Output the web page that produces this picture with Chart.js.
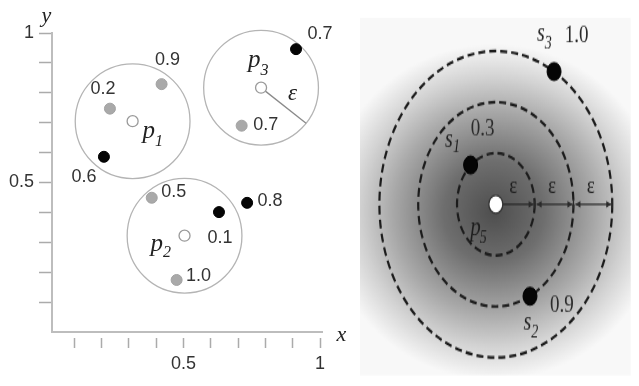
<!DOCTYPE html>
<html>
<head>
<meta charset="utf-8">
<title>Probabilistic ε-neighbourhoods</title>
<script src="https://cdn.jsdelivr.net/npm/chart.js@4.4.1/dist/chart.umd.min.js"></script>
<style>
  html, body { margin: 0; padding: 0; background: #fff; }
  #wrap { position: relative; width: 639px; height: 386px; overflow: hidden; }
  #left { position: absolute; left: 0; top: 0; }
  #right { position: absolute; left: 340px; top: 0; width: 299px; height: 386px; }
</style>
</head>
<body>
<div id="wrap">
  <canvas id="left" width="360" height="386"></canvas>
  <canvas id="right" width="299" height="302" style="width:299px;height:386px"></canvas>
</div>
<script>
// ---------- Left panel: query points p1..p3, their ε-neighbourhoods and nearby objects ----------
const eps = 0.21;
const centerNames = ['1', '2', '3'];
const centerPoints = [{ x: 0.314, y: 0.705 }, { x: 0.504, y: 0.322 }, { x: 0.784, y: 0.817 }];
const greyPoints = [{ x: 0.231, y: 0.747 }, { x: 0.42, y: 0.829 }, { x: 0.713, y: 0.69 }, { x: 0.384, y: 0.449 }, { x: 0.475, y: 0.174 }];
const greyProbs = ['0.2', '0.9', '0.7', '0.5', '1.0'];
const blackPoints = [{ x: 0.209, y: 0.586 }, { x: 0.912, y: 0.946 }, { x: 0.63, y: 0.401 }, { x: 0.733, y: 0.432 }];
const blackProbs = ['0.6', '0.7', '0.1', '0.8'];
const axisTicks = [0.1, 0.2, 0.3, 0.4, 0.5, 0.6, 0.7, 0.8, 0.9, 1.0];
const axisTickLabels = ['', '', '', '', '0.5', '', '', '', '', '1'];

// ---------- Right panel: object p5 with rings at ε, 2ε, 3ε and samples s1..s3 ----------
const ringEps = 1;
const ringMultiples = [1, 2, 3];
const queryName = '5';
const queryPoint = [{ x: 0, y: 0 }];
const sampleNames = ['1', '2', '3'];
const samplePoints = [{ x: -0.65, y: 0.77 }, { x: 0.88, y: -1.8 }, { x: 1.5, y: 2.6 }];
const sampleProbs = ['0.3', '0.9', '1.0'];

// label placement (pixel offsets from each mark; subscript offsets are vertical only)
const greyLabelOffsets = [[-7, -20], [6, -24], [24, -1], [22, -6], [22, -4]];
const blackLabelOffsets = [[-20, 20], [24, -15], [1, 26], [23, -1.5]];
const centerLabelOffsets = [
  { p: [10, 17], sub: 24.5 },
  { p: [-34, 15.5], sub: 21.5 },
  { p: [-13, -21], sub: -13 }
];
const sampleLabelOffsets = [
  { s: [-25.5, -14], sub: -10, prob: [12, -28.2] },
  { s: [-6.5, 26.6], sub: 32, prob: [32, 7] },
  { s: [-17, -24], sub: -18, prob: [22.5, -27.8] }
];
const queryLabelOffset = { p: [-25.5, 24.3], sub: 30.5 };

const SANS = '"Liberation Sans", Arial, sans-serif';
const SERIF = '"Liberation Serif", "Times New Roman", serif';

// base letter followed by a subscript that starts where the letter ends
function subscripted(ctx, base, sub, px, py, offBase, subY, baseFont, subFont, kern) {
  ctx.textAlign = 'left';
  ctx.textBaseline = 'alphabetic';
  ctx.font = baseFont;
  const bx = px + offBase[0];
  ctx.fillText(base, bx, py + offBase[1]);
  const w = ctx.measureText(base).width;
  ctx.font = subFont;
  ctx.fillText(sub, bx + w + (kern || 0), py + subY);
}

const leftDecor = {
  id: 'leftDecor',
  beforeDatasetsDraw(chart) {
    const { ctx, scales: { x, y } } = chart;
    const r = x.getPixelForValue(eps) - x.getPixelForValue(0);
    ctx.save();
    ctx.strokeStyle = '#b4b4b4';
    ctx.lineWidth = 1.3;
    centerPoints.forEach(c => {
      ctx.beginPath();
      ctx.arc(x.getPixelForValue(c.x), y.getPixelForValue(c.y), r, 0, Math.PI * 2);
      ctx.stroke();
    });
    // radius marker inside the third neighbourhood
    const c = centerPoints[2];
    const cx = x.getPixelForValue(c.x), cy = y.getPixelForValue(c.y);
    const a = 0.67;
    ctx.strokeStyle = '#8a8a8a';
    ctx.beginPath();
    ctx.moveTo(cx + 5.5 * Math.cos(a), cy + 5.5 * Math.sin(a));
    ctx.lineTo(cx + r * Math.cos(a), cy + r * Math.sin(a));
    ctx.stroke();
    ctx.restore();
  },
  afterDatasetsDraw(chart) {
    const { ctx, scales: { x, y } } = chart;
    ctx.save();
    ctx.fillStyle = '#333';
    ctx.font = '18px ' + SANS;
    ctx.textAlign = 'center';
    ctx.textBaseline = 'middle';
    greyPoints.forEach((p, i) => {
      ctx.fillText(greyProbs[i], x.getPixelForValue(p.x) + greyLabelOffsets[i][0], y.getPixelForValue(p.y) + greyLabelOffsets[i][1]);
    });
    blackPoints.forEach((p, i) => {
      ctx.fillText(blackProbs[i], x.getPixelForValue(p.x) + blackLabelOffsets[i][0], y.getPixelForValue(p.y) + blackLabelOffsets[i][1]);
    });
    ctx.fillStyle = '#222';
    centerPoints.forEach((p, i) => {
      subscripted(ctx, 'p', centerNames[i], x.getPixelForValue(p.x), y.getPixelForValue(p.y),
        centerLabelOffsets[i].p, centerLabelOffsets[i].sub,
        'italic 25px ' + SERIF, 'italic 16px ' + SERIF, 0);
    });
    // ε next to the radius marker
    const c = centerPoints[2];
    ctx.font = 'italic 23px ' + SERIF;
    ctx.textAlign = 'center';
    ctx.textBaseline = 'middle';
    ctx.fillText('ε', x.getPixelForValue(c.x) + 31.5, y.getPixelForValue(c.y) + 6);
    // axis names
    const area = chart.chartArea;
    ctx.font = 'italic 22px ' + SERIF;
    ctx.textBaseline = 'alphabetic';
    ctx.fillText('y', area.left - 5.5, area.top - 11);
    ctx.fillText('x', area.right + 19.5, area.bottom + 9);
    ctx.restore();
  }
};

function axisOptions(min, max, fitKey, fitVal, tickLength, extraGrid) {
  return {
    type: 'linear',
    min: min,
    max: max,
    afterBuildTicks(scale) { scale.ticks = axisTicks.map(v => ({ value: v })); },
    afterFit(scale) { scale[fitKey] = fitVal; },
    border: { display: true, color: '#bdbdbd', width: 2 },
    grid: Object.assign({
      display: true,
      drawOnChartArea: false,
      drawTicks: true,
      tickLength: tickLength,
      tickColor: '#ababab',
      tickWidth: 1.5
    }, extraGrid),
    ticks: {
      autoSkip: false,
      maxRotation: 0,
      padding: 5,
      color: '#333',
      font: { family: SANS, size: 18 },
      callback: (value, index) => axisTickLabels[index]
    }
  };
}

new Chart(document.getElementById('left'), {
  type: 'scatter',
  data: {
    datasets: [
      { data: greyPoints, pointRadius: 5.5, backgroundColor: '#a9a9a9', borderColor: '#a2a2a2', borderWidth: 1 },
      { data: blackPoints, pointRadius: 5.5, backgroundColor: '#050505', borderColor: '#000', borderWidth: 1 },
      { data: centerPoints, pointRadius: 5.5, backgroundColor: '#fff', borderColor: '#9a9a9a', borderWidth: 1.3 }
    ]
  },
  options: {
    responsive: false,
    animation: false,
    events: [],
    layout: { padding: { left: 0, top: 33, right: 38, bottom: 0 } },
    plugins: { legend: { display: false }, tooltip: { enabled: false } },
    scales: {
      x: axisOptions(0.019, 1.007, 'height', 54, 16, { tickBorderDash: [0, 5, 11, 60] }),
      y: axisOptions(0, 1, 'width', 52, 13, {})
    }
  },
  plugins: [leftDecor]
});

// ---------- right panel ----------
const rightDecor = {
  id: 'rightDecor',
  beforeDatasetsDraw(chart) {
    const { ctx, chartArea: a, scales: { x, y } } = chart;
    ctx.save();
    // shaded density around p5
    ctx.beginPath();
    ctx.rect(a.left, a.top, a.right - a.left, a.bottom - a.top);
    ctx.clip();
    const gx = x.getPixelForValue(-0.05), gy = y.getPixelForValue(-0.15);
    ctx.translate(gx, gy);
    ctx.scale(1, 0.78);
    const g = ctx.createRadialGradient(0, 0, 0, 0, 0, 168);
    g.addColorStop(0, '#4e4e4e');
    g.addColorStop(0.3, '#6e6e6e');
    g.addColorStop(0.6, '#a8a8a8');
    g.addColorStop(0.8, '#d2d2d2');
    g.addColorStop(1, '#f8f8f8');
    ctx.fillStyle = g;
    ctx.fillRect(-400, -500, 800, 1000);
    ctx.restore();

    // dashed rings at ε, 2ε, 3ε
    ctx.save();
    const cx = x.getPixelForValue(0), cy = y.getPixelForValue(0);
    ctx.strokeStyle = '#1c1c1c';
    ctx.lineWidth = 2.2;
    ctx.setLineDash([7, 4]);
    ringMultiples.forEach(m => {
      const rx = x.getPixelForValue(m * ringEps) - cx;
      const ry = cy - y.getPixelForValue(m * ringEps);
      ctx.beginPath();
      ctx.ellipse(cx, cy, rx, ry, 0, 0, Math.PI * 2);
      ctx.stroke();
    });
    ctx.setLineDash([]);

    // ε measuring arrows
    ctx.strokeStyle = '#2a2a2a';
    ctx.fillStyle = '#2a2a2a';
    ctx.lineWidth = 1.3;
    const head = (tipX, dir) => {
      ctx.beginPath();
      ctx.moveTo(tipX, cy);
      ctx.lineTo(tipX - dir * 5, cy - 2.6);
      ctx.lineTo(tipX - dir * 5, cy + 2.6);
      ctx.closePath();
      ctx.fill();
    };
    ringMultiples.forEach((m, i) => {
      const xa = x.getPixelForValue((m - 1) * ringEps);
      const xb = x.getPixelForValue(m * ringEps);
      ctx.beginPath();
      ctx.moveTo(i === 0 ? xa + 7 : xa + 2, cy);
      ctx.lineTo(xb - 1, cy);
      ctx.stroke();
      head(xb - 1, 1);
      if (i > 0) head(xa + 2, -1);
      ctx.beginPath();
      ctx.moveTo(xb, cy - 3.5);
      ctx.lineTo(xb, cy + 3.5);
      ctx.stroke();
    });
    ctx.restore();
  },
  afterDatasetsDraw(chart) {
    const { ctx, scales: { x, y } } = chart;
    ctx.save();
    ctx.fillStyle = '#1e1e1e';
    const cx = x.getPixelForValue(0), cy = y.getPixelForValue(0);
    // ε labels above each arrow
    ctx.font = '19px ' + SERIF;
    ctx.textAlign = 'center';
    ctx.textBaseline = 'middle';
    ringMultiples.forEach(m => {
      const xa = x.getPixelForValue((m - 1) * ringEps);
      const xb = x.getPixelForValue(m * ringEps);
      ctx.fillText('ε', (xa + xb) / 2 - 2, cy - 14);
    });
    // sample names and probabilities
    samplePoints.forEach((p, i) => {
      const px = x.getPixelForValue(p.x), py = y.getPixelForValue(p.y);
      const o = sampleLabelOffsets[i];
      subscripted(ctx, 's', sampleNames[i], px, py, o.s, o.sub, 'italic 20px ' + SERIF, 'italic 14px ' + SERIF, 0);
      ctx.font = '19px ' + SERIF;
      ctx.textAlign = 'center';
      ctx.textBaseline = 'middle';
      ctx.fillStyle = '#2a2a2a';
      ctx.fillText(sampleProbs[i], px + o.prob[0], py + o.prob[1]);
      ctx.fillStyle = '#1e1e1e';
    });
    subscripted(ctx, 'p', queryName, cx, cy, queryLabelOffset.p, queryLabelOffset.sub, 'italic 21px ' + SERIF, 'italic 14px ' + SERIF, -1);
    ctx.restore();
  }
};

new Chart(document.getElementById('right'), {
  type: 'scatter',
  data: {
    datasets: [
      { data: samplePoints, pointRadius: 7, backgroundColor: '#050505', borderColor: '#000', borderWidth: 1 },
      { data: queryPoint, pointRadius: 7, backgroundColor: '#fff', borderColor: '#333', borderWidth: 1.3 }
    ]
  },
  options: {
    responsive: false,
    animation: false,
    events: [],
    layout: { padding: { left: 20, top: 14, right: 0, bottom: 8 } },
    plugins: { legend: { display: false }, tooltip: { enabled: false } },
    scales: {
      x: { type: 'linear', display: false, min: -3.5, max: 3.475 },
      y: { type: 'linear', display: false, min: -3.35, max: 3.65 }
    }
  },
  plugins: [rightDecor]
});
</script>
</body>
</html>
